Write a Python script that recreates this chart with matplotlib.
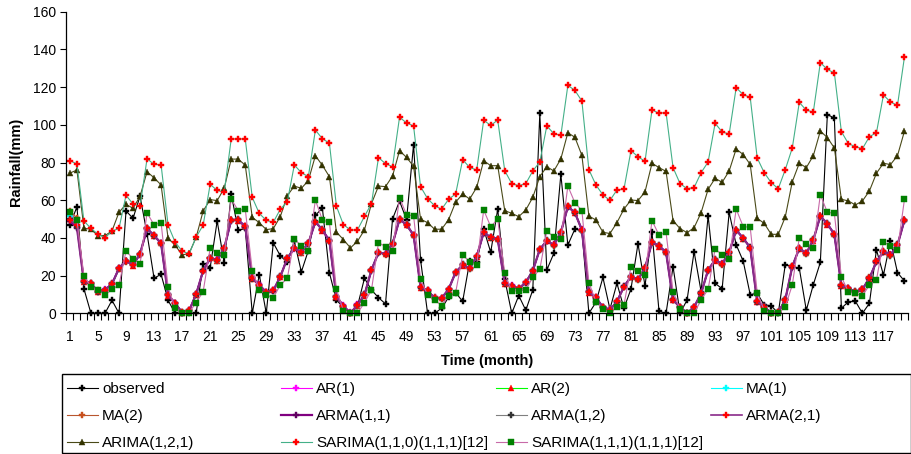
import matplotlib
matplotlib.use("Agg")
import matplotlib.pyplot as plt
from matplotlib.patches import Rectangle

plt.rcParams['font.family'] = ['Liberation Sans', 'DejaVu Sans']

#
# Monthly rainfall, observed and fitted (mm), months 1..120.
#
months = list(range(1, 121))

observed = [
    47, 56.4, 13, 0, 0, 0, 6.9, 0, 54.3, 50.4, 62.1, 42.2,
    18.6, 20.7, 6.9, 0, 0, 0, 0, 26.3, 24.2, 49, 26.7, 63.3,
    44, 45, 0, 20.5, 0, 37.4, 30.5, 27, 38.2, 22, 33.3, 52,
    55.8, 21.5, 7, 3.2, 0, 3.7, 18.6, 12.4, 8.3, 5, 50, 59.5,
    49.7, 89.5, 28.3, 0, 0, 2.7, 8.5, 11, 6.3, 27.5, 27, 44.7,
    32.4, 55.3, 18.1, 0, 9.4, 1.6, 12.4, 106, 23, 31.8, 73.7, 36.2,
    44.7, 43.8, 0, 5.8, 19, 2.2, 15.9, 2.7, 12.9, 36.9, 14.6, 43,
    1, 0, 24.7, 0, 7.1, 32.7, 11.5, 51.8, 15.9, 13, 53.5, 36.4,
    27.7, 9.9, 10.6, 4.4, 4, 0, 25.8, 24.7, 23.9, 1.6, 15.2, 27,
    105.4, 103.6, 2.7, 6.1, 6.4, 0, 5.3, 33.7, 20.3, 38.4, 21.6, 17.1,
]

ar1 = [
    52.5, 47, 17.5, 15.5, 12, 12.8, 16, 24.2, 27.5, 26, 31, 44.5,
    41.5, 37.5, 10.2, 5.5, 0.8, 1.8, 10.5, 22.3, 29, 28.6, 34.2, 49,
    49.8, 46.3, 19, 15.3, 11.5, 12.3, 19.8, 29, 34.2, 32.7, 37.4, 48.2,
    44.5, 38.9, 9.2, 4.2, 0.5, 4.7, 10, 22.7, 32, 31.8, 36.5, 49.5,
    47.2, 41.8, 14.2, 12.3, 8.4, 8.3, 13, 21.5, 25.9, 24.2, 30.4, 42.5,
    40.6, 39.6, 16.3, 14.8, 13.4, 16.6, 22.9, 33.6, 38.2, 36.5, 42.5, 56.2,
    53.7, 44.5, 11.7, 8.6, 3.6, 2.1, 6.5, 14.4, 19.7, 18.3, 24.2, 37.4,
    36, 32.7, 7.5, 3.5, 0.4, 3.5, 10.9, 22.7, 28.6, 26.5, 32.5, 43.9,
    40.1, 35.1, 6.6, 3.8, 0.4, 0.8, 7.4, 24.5, 34.2, 32.1, 38.6, 51.3,
    47.7, 42.2, 15.1, 13.6, 11.6, 13, 18.9, 27.1, 32.4, 31.2, 35.9, 49.2,
]

ar2 = [
    50, 46.8, 16.5, 16.2, 11.3, 12.6, 15.2, 23.6, 28.1, 25.3, 31.8, 45.3,
    40.9, 37.4, 9.4, 5.6, 0.2, 1.2, 9.8, 22.9, 29.5, 28, 34.8, 49.8,
    49.2, 46.3, 18.3, 15.3, 10.8, 12.3, 19.1, 29.5, 34.8, 32.1, 37.4, 48.9,
    43.9, 38.8, 8.5, 3.6, 0, 4.1, 9.4, 23.3, 32.5, 31.2, 37.1, 50.2,
    46.6, 41.8, 13.5, 12.3, 7.7, 8.3, 12.4, 22.1, 25.3, 24.2, 29.8, 43.1,
    40, 39.6, 15.6, 14.8, 12.8, 16.6, 22.3, 34.2, 38.2, 36.5, 42.5, 56.9,
    53.1, 44.5, 11, 8.6, 2.9, 2.1, 5.9, 14.4, 19.1, 18.3, 23.6, 38,
    35.4, 32.7, 6.8, 3.5, 0, 3.5, 10.3, 23.3, 28, 26.5, 31.9, 44.5,
    39.5, 35.1, 5.9, 3.8, 0, 0.7, 6.8, 25.1, 34.2, 32.1, 38.6, 51.9,
    47.1, 42.2, 14.4, 13.6, 11, 13, 18.3, 27.7, 32.4, 31.2, 35.9, 49.8,
]

ma1 = [
    51.4, 48.5, 17.2, 15.6, 11.9, 12.1, 15.8, 23.6, 27.5, 25.9, 31.2, 44.7,
    41.5, 36.8, 10, 5, 0.7, 1.1, 10.4, 22.3, 29.5, 28, 34.2, 49.2,
    49.8, 45.7, 18.9, 14.7, 11.4, 11.7, 19.7, 28.9, 34.8, 32.1, 37.4, 48.3,
    44.5, 38.2, 9.1, 3.6, 0.3, 4.1, 10, 22.7, 32.5, 31.2, 37.1, 49.6,
    47.2, 41.2, 14.1, 11.7, 8.3, 7.7, 13, 21.5, 25.9, 23.6, 30.4, 42.5,
    40.6, 39, 16.2, 14.2, 13.4, 16, 22.9, 33.6, 38.8, 35.9, 43.1, 56.3,
    53.7, 43.9, 11.6, 8, 3.5, 1.5, 6.5, 13.8, 19.7, 17.7, 24.2, 37.4,
    36, 32.1, 7.4, 2.9, 0.3, 2.9, 10.9, 22.7, 28.6, 25.9, 32.5, 43.9,
    40.1, 34.5, 6.5, 3.2, 0.3, 0.1, 7.4, 24.5, 34.8, 31.5, 39.2, 51.3,
    47.7, 41.6, 15, 13, 11.6, 12.4, 18.9, 27.1, 33, 30.6, 36.5, 49.2,
]

ma2 = [
    54.5, 50.5, 17.4, 15.3, 12.1, 12, 15.9, 23.5, 27.3, 26, 31.1, 44.6,
    41.6, 36.7, 10.1, 4.9, 0.8, 1, 10.5, 22.2, 29.6, 27.9, 34.1, 49.1,
    49.9, 45.6, 19, 14.6, 11.5, 11.6, 19.8, 28.8, 34.9, 32, 37.5, 48.2,
    44.6, 38.1, 9.2, 3.5, 0.4, 4, 10.1, 22.6, 32.6, 31.1, 37.2, 49.5,
    47.3, 41.1, 14.2, 11.6, 8.4, 7.6, 13.1, 21.4, 26, 23.5, 30.5, 42.4,
    40.7, 38.9, 16.3, 14.1, 13.5, 15.9, 23, 33.5, 38.9, 35.8, 43.2, 56.2,
    53.8, 43.8, 11.7, 7.9, 3.6, 1.4, 6.6, 13.7, 19.8, 17.6, 24.3, 37.3,
    36.1, 32, 7.5, 2.8, 0.4, 2.8, 11, 22.6, 28.7, 25.8, 32.6, 43.8,
    40.2, 34.4, 6.6, 3.1, 0.4, 0, 7.5, 24.4, 34.9, 31.4, 39.3, 51.2,
    47.8, 41.5, 15.1, 12.9, 11.7, 12.3, 19, 27, 33.1, 30.5, 36.6, 49.1,
]

arma11 = [
    49, 45.5, 16.8, 15.9, 11.5, 12.4, 15.5, 23.9, 27.8, 25.6, 31.5, 45,
    41.2, 37.1, 9.7, 5.3, 0.4, 1.4, 10.1, 22.6, 29.2, 28.3, 34.5, 49.5,
    49.5, 46, 18.6, 15, 11.1, 12, 19.4, 29.2, 34.5, 32.4, 37.1, 48.6,
    44.2, 38.5, 8.8, 3.9, 0, 4.4, 9.7, 23, 32.2, 31.5, 36.8, 49.9,
    46.9, 41.5, 13.8, 12, 8, 8, 12.7, 21.8, 25.6, 23.9, 30.1, 42.8,
    40.3, 39.3, 15.9, 14.5, 13.1, 16.3, 22.6, 33.9, 38.5, 36.2, 42.8, 56.6,
    53.4, 44.2, 11.3, 8.3, 3.2, 1.8, 6.2, 14.1, 19.4, 18, 23.9, 37.7,
    35.7, 32.4, 7.1, 3.2, 0, 3.2, 10.6, 23, 28.3, 26.2, 32.2, 44.2,
    39.8, 34.8, 6.2, 3.5, 0, 0.4, 7.1, 24.8, 34.5, 31.8, 38.9, 51.6,
    47.4, 41.9, 14.7, 13.3, 11.3, 12.7, 18.6, 27.4, 32.7, 30.9, 36.2, 49.5,
]

arma12 = [
    50.2, 46, 16.6, 16.1, 11.4, 12.6, 15.3, 24.1, 27.9, 25.4, 31.7, 45.2,
    41, 37.3, 9.5, 5.4, 0.2, 1.6, 9.9, 22.8, 29.1, 28.5, 34.6, 49.7,
    49.3, 46.2, 18.4, 15.2, 10.9, 12.2, 19.2, 29.4, 34.4, 32.6, 37, 48.8,
    44, 38.7, 8.6, 4.1, 0, 4.6, 9.5, 23.2, 32.1, 31.7, 36.6, 50.1,
    46.7, 41.7, 13.6, 12.2, 7.8, 8.2, 12.5, 22, 25.4, 24.1, 29.9, 43,
    40.1, 39.5, 15.7, 14.7, 12.9, 16.5, 22.4, 34.1, 38.3, 36.4, 42.6, 56.8,
    53.2, 44.4, 11.1, 8.5, 3, 2, 6, 14.3, 19.2, 18.2, 23.7, 37.9,
    35.5, 32.6, 6.9, 3.4, 0, 3.4, 10.4, 23.2, 28.1, 26.4, 32, 44.4,
    39.6, 35, 6, 3.7, 0, 0.6, 6.9, 25, 34.3, 32, 38.7, 51.8,
    47.2, 42.1, 14.5, 13.5, 11.1, 12.9, 18.4, 27.6, 32.5, 31.1, 36, 49.7,
]

arma21 = [
    49.3, 46.9, 16.9, 16, 11.6, 12.5, 15.6, 24, 27.9, 25.7, 31.4, 45.1,
    41.3, 37.2, 9.8, 5.4, 0.5, 1.5, 10.2, 22.7, 29.3, 28.4, 34.6, 49.6,
    49.6, 46.1, 18.7, 15.1, 11.2, 12.1, 19.5, 29.3, 34.6, 32.5, 37.2, 48.7,
    44.3, 38.6, 8.9, 4, 0.1, 4.5, 9.8, 23.1, 32.3, 31.6, 36.9, 50,
    47, 41.6, 13.9, 12.1, 8.1, 8.1, 12.8, 21.9, 25.7, 24, 30.2, 42.9,
    40.4, 39.4, 16, 14.6, 13.2, 16.4, 22.7, 34, 38.6, 36.3, 42.9, 56.7,
    53.5, 44.3, 11.4, 8.4, 3.3, 1.9, 6.3, 14.2, 19.5, 18.1, 24, 37.8,
    35.8, 32.5, 7.2, 3.3, 0.1, 3.3, 10.7, 23.1, 28.4, 26.3, 32.3, 44.3,
    39.9, 34.9, 6.3, 3.6, 0.1, 0.5, 7.2, 24.9, 34.6, 31.9, 39, 51.7,
    47.5, 42, 14.8, 13.4, 11.4, 12.8, 18.7, 27.5, 32.8, 31, 36.3, 49.6,
]

arima121 = [
    74.4, 76, 45.1, 44.6, 41.2, 41.2, 43.7, 53.6, 57.8, 55.7, 62.1, 75.1,
    71.9, 68.1, 39.8, 36.2, 30.9, 31.8, 40.3, 54.3, 60.3, 59.8, 66.3, 81.8,
    81.8, 78.6, 50.9, 48.1, 44.4, 44.9, 51.3, 62.4, 67.5, 66.3, 70.4, 83.6,
    78.5, 72.5, 43.1, 39.1, 34.7, 38.2, 44.2, 58.2, 67.5, 67.2, 72.8, 86.3,
    82.7, 78, 49.9, 48.1, 44.6, 44.6, 49.7, 59, 63.3, 60.6, 66.8, 81,
    78.3, 78.3, 54.5, 53, 51.3, 54.8, 61.5, 72.5, 77.8, 75.5, 81.9, 95.8,
    93.4, 83.8, 51.6, 49.5, 43, 42.3, 48.1, 55.3, 60.1, 59.8, 64.4, 79.6,
    77.3, 75.3, 49.2, 44.9, 42.8, 45.4, 53.4, 65.8, 71.6, 69.5, 75.5, 87.2,
    84.2, 79, 50.4, 47.7, 41.9, 41.9, 51.1, 69.8, 79.6, 77.3, 83.6, 96.7,
    93.2, 87.7, 60.5, 59.6, 57.5, 59.6, 64.9, 74.3, 79.6, 78.9, 83.6, 96.7,
]

sarima110 = [
    81, 79.2, 49, 45, 42, 40, 43.6, 45, 62.6, 58, 56.8, 82,
    79, 78.8, 46.7, 37.8, 33, 31.5, 40.4, 46.8, 68.4, 65.2, 64.2, 92.5,
    92.5, 92.5, 61.5, 53, 49.3, 48.3, 55.2, 59.2, 78.7, 74.6, 72.5, 97.2,
    92.6, 90.3, 56.8, 47, 44.2, 44.2, 51.4, 58.2, 82.6, 79.4, 77.8, 104,
    101, 99.4, 67.2, 60.8, 57.1, 55.2, 60.5, 63.3, 81.5, 77.4, 76, 102.4,
    99.7, 102.5, 75.7, 68.8, 67.7, 68.8, 75.5, 80.3, 99.4, 95.3, 94.4, 120.9,
    118.3, 112.6, 76.2, 68.1, 62.8, 59.9, 65.4, 65.9, 86.3, 83.1, 80.6, 107.9,
    106.1, 106.5, 77.3, 68.8, 66.1, 66.7, 74.6, 80.3, 100.8, 96.2, 95.1, 119.7,
    116, 114.6, 82.4, 74.6, 69.3, 66.1, 76.2, 87.7, 111.9, 107.7, 106.8, 133,
    129.4, 127.5, 96.4, 90, 88.4, 87.3, 93.7, 95.8, 115.8, 112.1, 110.3, 136.1,
]

sarima111 = [
    54, 49.5, 19.8, 14.1, 12.4, 9.7, 12.7, 15, 33, 29, 26, 53.3,
    46.9, 48.1, 13.8, 2.7, 0, 0.4, 5.7, 11.5, 34.5, 31.8, 30.9, 60.6,
    54.5, 55.3, 22.6, 12.4, 9.7, 8.3, 15, 18.6, 39.3, 35.9, 33.2, 60.1,
    49.5, 48.3, 12.7, 1.4, 0, 0, 5.7, 12.4, 37.5, 35.4, 33.2, 61.4,
    52.2, 51.8, 18, 9.7, 7.1, 4.1, 9.2, 11, 30.9, 27.4, 25.6, 54.8,
    46, 49.9, 21.2, 11.8, 12, 12.4, 19.1, 23.3, 43.8, 40.3, 39.3, 67.5,
    58.7, 54.5, 16.3, 6.2, 2.1, 0, 3.5, 4.4, 24.8, 22.6, 20.3, 49.2,
    41.5, 43, 11.5, 2.1, 0, 0, 7.1, 12.7, 34.3, 30.9, 28.6, 55.3,
    46, 45.6, 11, 1.4, 0, 0, 3.5, 15, 40.1, 36.6, 34.8, 62.9,
    53.6, 53, 19.4, 11.3, 10.6, 9.2, 15, 17.7, 38, 35.7, 33.6, 60.6,
]

labels = ['observed', 'AR(1)', 'AR(2)', 'MA(1)', 'MA(2)', 'ARMA(1,1)',
          'ARMA(1,2)', 'ARMA(2,1)', 'ARIMA(1,2,1)',
          'SARIMA(1,1,0)(1,1,1)[12]', 'SARIMA(1,1,1)(1,1,1)[12]']
values = [observed, ar1, ar2, ma1, ma2, arma11, arma12, arma21,
          arima121, sarima110, sarima111]

# line colour, line width, marker, marker colour, marker size
styles = [
    ('black',   0.8, 'P', 'black',   4.2),
    ('#FF00FF', 0.8, 'P', '#FF00FF', 3.8),
    ('#00FF00', 0.8, '^', 'red',     3.8),
    ('#00FFFF', 0.8, 'P', '#00FFFF', 3.8),
    ('#B8562E', 0.8, 'P', '#C8501E', 3.8),
    ('#800080', 1.6, 'P', '#600060', 3.8),
    ('#808080', 0.8, 'P', '#333333', 3.8),
    ('#8A2A8A', 1.2, 'P', 'red',     4.8),
    ('#4A4A18', 0.8, '^', '#333300', 4.4),
    ('#44B088', 0.8, 'P', 'red',     5.0),
    ('#C86AA8', 0.8, 's', '#008000', 3.8),
]

fig = plt.figure(figsize=(9.12, 4.54), dpi=100)
ax = fig.add_axes([65.7 / 912, 1 - 313.3 / 454, (908 - 65.7) / 912, (313.3 - 11.7) / 454])

handles = []
for lab, vals, (lc, lw, mk, mc, ms) in zip(labels, values, styles):
    h, = ax.plot(months, vals, color=lc, lw=lw, marker=mk, markersize=ms,
                 markerfacecolor=mc, markeredgecolor=mc, markeredgewidth=0.3,
                 label=lab, clip_on=False)
    handles.append(h)

ax.set_ylim(0, 160)
ax.set_xlim(0.4, 120.5)
ax.set_yticks(range(0, 161, 20))
ax.set_xticks(range(1, 121, 4))
ax.set_xticks([m + 0.5 for m in range(0, 121)], minor=True)
ax.tick_params(axis='y', direction='out', length=4, width=0.8, labelsize=10, pad=3)
ax.tick_params(axis='x', which='major', length=0, labelsize=10, pad=12)
ax.tick_params(axis='x', which='minor', direction='out', length=5, width=0.8)
for s in ('top', 'right'):
    ax.spines[s].set_visible(False)
for s in ('left', 'bottom'):
    ax.spines[s].set_linewidth(0.9)
    ax.spines[s].set_color('black')

fig.text(16 / 912, 1 - 162 / 454, 'Rainfall(mm)', rotation=90, ha='center',
         va='center', fontsize=10.5, fontweight='bold')
fig.text(487 / 912, 1 - 361 / 454, 'Time (month)', ha='center', va='center',
         fontsize=10.5, fontweight='bold')

# legend box, 4 equal columns filled row by row
fig.add_artist(Rectangle((62 / 912, 1 - 453 / 454), (911 - 62) / 912, (453 - 374) / 454,
                         transform=fig.transFigure, fill=False, edgecolor='black', lw=1.0))
col_x = [67, 281, 496, 711]
for c in range(4):
    idx = list(range(c, len(handles), 4))
    fig.legend([handles[i] for i in idx], [labels[i] for i in idx],
               loc='upper left', bbox_to_anchor=(col_x[c] / 912, 1 - 382 / 454),
               frameon=False, fontsize=11, handlelength=2.0, handletextpad=0.3,
               labelspacing=0.85, borderpad=0, borderaxespad=0, numpoints=1)

fig.savefig('out.png', dpi=100)
